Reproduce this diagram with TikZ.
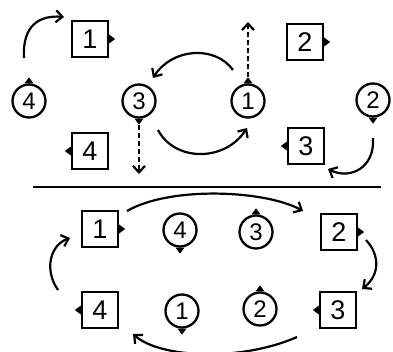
\documentclass[tikz,border=0pt]{standalone}
\usepackage{fontspec}
\setmainfont{Liberation Sans}
\usetikzlibrary{arrows.meta}
\tikzset{
  circ/.style={circle, draw, line width=2.3pt, minimum size=33pt, inner sep=0pt, font=\fontsize{24}{24}\selectfont},
  sq/.style={rectangle, draw, line width=2.3pt, minimum size=36pt, inner sep=0pt, font=\fontsize{27}{27}\selectfont},
  conn/.style={line width=2.2pt, -{Straight Barb[length=6.5pt,width=12pt,line width=2.2pt]}},
  dconn/.style={conn, dash pattern=on 5pt off 3pt}
}
\newcommand{\ptrN}[1]{\fill ([xshift=-4.5pt]#1.north) -- ([yshift=6pt]#1.north) -- ([xshift=4.5pt]#1.north) -- cycle;}
\newcommand{\ptrS}[1]{\fill ([xshift=-4.5pt]#1.south) -- ([yshift=-6pt]#1.south) -- ([xshift=4.5pt]#1.south) -- cycle;}
\newcommand{\ptrE}[1]{\fill ([yshift=-4.5pt]#1.east) -- ([xshift=6pt]#1.east) -- ([yshift=4.5pt]#1.east) -- cycle;}
\newcommand{\ptrW}[1]{\fill ([yshift=-4.5pt]#1.west) -- ([xshift=-6pt]#1.west) -- ([yshift=4.5pt]#1.west) -- cycle;}
\begin{document}
\begin{tikzpicture}[x=1pt,y=-1pt]
\useasboundingbox (0,0) rectangle (393,351);
% top section
\node[circ] (tc4) at (29,101) {4};
\node[circ] (tc3) at (139,101) {3};
\node[circ] (tc1) at (248,101) {1};
\node[circ] (tc2) at (373,100) {2};
\node[sq] (ts1) at (90,39) {1};
\node[sq] (ts4) at (90,151) {4};
\node[sq] (ts2) at (305,42) {2};
\node[sq] (ts3) at (306,146) {3};
\ptrN{tc4} \ptrS{tc3} \ptrN{tc1} \ptrS{tc2}
\ptrE{ts1} \ptrW{ts4} \ptrE{ts2} \ptrW{ts3}
\coordinate (a1s) at (24,58); \coordinate (a1e) at (64,17);
\draw[conn] (a1s) .. controls (22,25) and (40,15) .. (a1e);
\coordinate (a2s) at (233,70); \coordinate (a2e) at (153,78);
\draw[conn] (a2s) .. controls (215,45) and (172,48) .. (a2e);
\coordinate (a3s) at (158,130); \coordinate (a3e) at (247,128);
\draw[conn] (a3s) .. controls (175,162) and (225,162) .. (a3e);
\coordinate (a4s) at (373,138); \coordinate (a4e) at (328,169);
\draw[conn] (a4s) .. controls (375,168) and (350,180) .. (a4e);
\coordinate (d1e) at (139,174);
\draw[dconn] ([yshift=-6pt]tc3.south) -- (d1e);
\coordinate (d2e) at (248,22);
\draw[dconn] ([yshift=6pt]tc1.north) -- (d2e);
% divider
\coordinate (l1) at (33,187); \coordinate (l2) at (381,187);
\draw[line width=2.2pt] (l1) -- (l2);
% bottom section
\node[sq] (bs1) at (100,229) {1};
\node[circ] (bc4) at (180,230) {4};
\node[circ] (bc3) at (256,232) {3};
\node[sq] (bs2) at (339,232) {2};
\node[sq] (bs4) at (100,310) {4};
\node[circ] (bc1) at (182,311) {1};
\node[circ] (bc2) at (260,309) {2};
\node[sq] (bs3) at (338,310) {3};
\ptrE{bs1} \ptrS{bc4} \ptrN{bc3} \ptrE{bs2}
\ptrW{bs4} \ptrS{bc1} \ptrN{bc2} \ptrW{bs3}
\coordinate (b1s) at (127,211); \coordinate (b1e) at (303,211);
\draw[conn] (b1s) .. controls (170,186) and (265,190) .. (b1e);
\coordinate (b2s) at (366,240); \coordinate (b2e) at (362,289);
\draw[conn] (b2s) .. controls (380,255) and (380,275) .. (b2e);
\coordinate (b3s) at (297,337); \coordinate (b3e) at (133,334);
\draw[conn] (b3s) .. controls (240,362) and (160,358) .. (b3e);
\coordinate (b4s) at (58,290); \coordinate (b4e) at (70,238);
\draw[conn] (b4s) .. controls (44,270) and (50,245) .. (b4e);
\end{tikzpicture}
\end{document}
